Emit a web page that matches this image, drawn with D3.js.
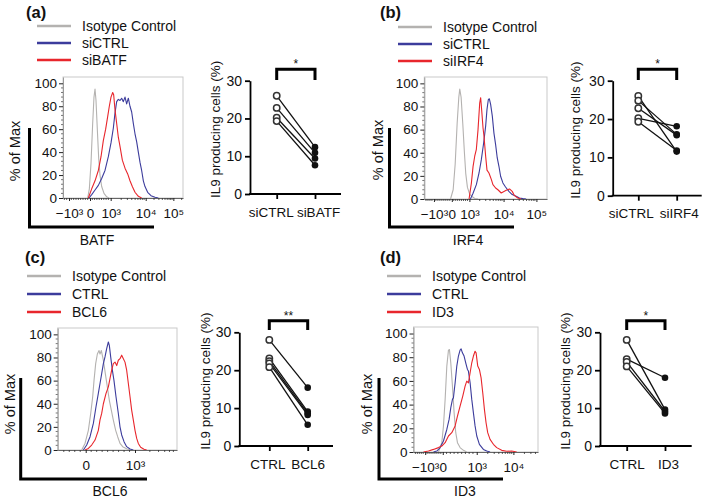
<!DOCTYPE html>
<html><head><meta charset="utf-8">
<script src="https://cdn.jsdelivr.net/npm/d3@7"></script>
<style>
body{margin:0;background:#fff}
text{font-family:Arial,"Liberation Sans",Helvetica,sans-serif;fill:#111}
</style>
</head><body>
<svg id="chart" width="709" height="500"></svg>
<script>
// ---------------- DATA ----------------
const panelLabels = ["(a)", "(b)", "(c)", "(d)"];
const legendA = ["Isotype Control", "siCTRL", "siBATF"];
const legendB = ["Isotype Control", "siCTRL", "siIRF4"];
const legendC = ["Isotype Control", "CTRL", "BCL6"];
const legendD = ["Isotype Control", "CTRL", "ID3"];
const markers = ["BATF", "IRF4", "BCL6", "ID3"];
const histYTicks = [0, 20, 40, 60, 80, 100];

// histogram x in display channels (0-256), y in % of max
const histA_iso = [[52.6,0],[56.2,8],[59.7,30],[63.3,65],[66.1,88],[68.3,95],[70.4,85],[73.2,60],[76.1,35],[78.9,20],[82.5,10],[87.5,4],[93.2,1],[98.1,0]];
const histA_ctrl = [[55.5,0],[61.2,3],[68.3,7],[75.4,11],[82.5,17],[89.6,24],[96.7,36],[102.4,48],[107.4,61],[110.9,74],[114.5,84],[118,86],[121.6,85],[125.2,87],[128.7,84],[132.3,88],[135.8,82],[139.4,87],[142.9,80],[146.5,75],[150,65],[153.6,56],[157.2,49],[160.7,40],[164.3,31],[167.8,24],[171.4,15],[174.9,10],[180.6,5],[187.7,2],[196.3,0.6],[203.4,0]];
const histA_trt = [[54,0],[61.2,8],[68.3,15],[75.4,24],[81.1,36],[86,50],[91,60],[95.3,71],[98.8,80],[102.4,88],[106,92],[108.1,90],[110.9,77],[114.5,65],[118,53],[121.6,45],[126.6,33],[132.3,26],[138,21],[142.9,15],[147.9,10],[153.6,5],[160.7,1.5],[167.8,0]];

const histB_iso = [[54.7,0],[60.2,8],[64.4,30],[68.5,65],[72,88],[74,95],[76.8,88],[80.3,65],[83.7,40],[86.5,22],[90,10],[94.8,4],[100.3,2],[105.2,0.5],[112.1,0]];
const histB_ctrl = [[96.2,0],[101.7,5],[108.6,12.4],[114.2,22.5],[119,34],[123.9,48.6],[128,63],[130.8,77.5],[133.6,86],[135.6,86.7],[138.4,81.8],[141.9,71.7],[145.3,57],[148.8,47],[152.2,35.5],[155.7,28.3],[159.2,19.7],[164,13.9],[169.5,10.4],[176.5,6.6],[183.4,3.8],[191.7,2.3],[198.6,0.9],[205.5,0.3],[212.4,0]];
const histB_trt = [[93.4,0],[98.3,14],[101.7,28],[105.2,37],[108.6,43],[112.1,60],[115.6,83],[117.6,87.6],[119.7,77],[122.5,61.6],[124.6,54],[128,37],[130.8,25],[134.9,22.5],[139.8,17],[143.2,12.4],[148.8,9.5],[153.6,8],[160.5,5.2],[170.9,7.5],[177.8,8.7],[183.4,6.6],[188.2,2.9],[195.1,0.9],[202.1,0]];

const histC_iso = [[51.5,0],[58.6,5.7],[65.8,17],[70.8,31.6],[75.1,46],[77.9,60],[81.5,74.7],[85.1,83],[88.7,86],[90.8,83],[93.7,86],[98,77.6],[102.2,66],[106.5,54.6],[110.8,43],[115.8,33],[119.4,25.9],[124.4,17],[128.7,11.5],[133.7,5.7],[139.4,2.9],[148,1.1],[155.2,0]];
const histC_ctrl = [[55.1,0],[62.2,4.3],[69.4,11.5],[76.5,23],[82.2,37.4],[87.2,49],[90.8,57.5],[94.4,66],[98,74.7],[101.5,80.5],[105.1,87.6],[108.7,93.4],[110.8,90.5],[113.7,80.5],[117.3,69],[120.8,60],[125.1,46],[130.1,31.6],[133.7,20],[137.3,13],[142.3,7.2],[148,2.9],[155.2,0.9],[162.3,0]];
const histC_trt = [[58.6,0],[65.8,1.4],[72.9,4.3],[80.1,8.6],[87.2,17],[90.8,26],[94.4,31.6],[98,40],[103.7,49],[108.7,54.6],[112.3,62],[115.8,69],[119.4,74.7],[123,76],[126.6,73],[130.1,77.6],[133.7,79],[137.3,82],[140.9,79],[144.4,76],[148,69],[151.6,57.5],[155.2,46],[158.7,34.5],[162.3,25.9],[165.9,17],[169.5,10],[173,5.7],[178,2.3],[185.2,0.6],[190.9,0]];

const histD_iso = [[51.3,0],[58.2,7.9],[61.6,22],[65,44],[68.5,72.5],[71.9,86],[73.9,86.5],[76.7,75],[80.1,55.6],[83.5,33],[86.9,16.3],[90.4,7.9],[95.8,3.7],[102.7,1.4],[109.5,0]];
const histD_ctrl = [[41.1,0],[47.9,0.8],[54.8,3.7],[61.6,9.3],[68.5,19],[73.2,27.5],[76.7,37.4],[80.1,44.4],[82.1,45.8],[85.6,58.4],[89,72.5],[92.4,81],[95.8,86],[97.9,87],[100.6,83.7],[104,81],[108.2,73.9],[110.9,69.7],[112.9,68.3],[116.4,58.4],[119.8,44.4],[123.2,33],[126.6,22],[130.1,13.5],[135.5,6.5],[143.7,2.2],[150.6,0.8],[157.4,0]];
const histD_trt = [[20.5,0],[30.8,0.8],[41.1,2.2],[51.3,3.7],[58.2,5],[65,7.9],[71.9,13.5],[78.7,16.3],[85.6,22],[90.4,30.3],[95.8,38.8],[101.3,47.2],[106.1,55.6],[109.5,59.8],[112.9,58.4],[116.4,66.9],[119.8,75.3],[123.2,81],[126.6,85],[128.7,83.7],[132.1,72.5],[135.5,69.7],[139,62.6],[142.4,50],[145.8,36],[149.2,24.7],[152.6,16.3],[157.4,10.7],[164.3,6.5],[171.1,3.7],[181.4,1.4],[191.7,0.6],[201.9,0.8],[212.2,0]];

// x-axis tick channels and labels
const ticksA = [12.8, 57.6, 101.7, 176.4, 235.4];
const tickLabelsA = ["\u221210\u00B3", "0", "10\u00B3", "10\u2074", "10\u2075"];
const ticksB = [20.1, 57.4, 94.1, 165.4, 233.9];
const tickLabelsB = ["\u221210\u00B3", "0", "10\u00B3", "10\u2074", "10\u2075"];
const ticksC = [60.1, 165.9];
const tickLabelsC = ["0", "10\u00B3"];
const ticksD = [24, 60.2, 130, 205.4];
const tickLabelsD = ["\u221210\u00B3", "0", "10\u00B3", "10\u2074"];

// paired dot plots: IL9 producing cells (%)
const catsA = ["siCTRL", "siBATF"];
const ctrlA = [26.0, 22.8, 20.2, 19.3];
const trtA  = [12.4, 10.9, 9.4, 7.6];
const catsB = ["siCTRL", "siIRF4"];
const ctrlB = [26.0, 24.8, 22.8, 20.2, 19.3];
const trtB  = [11.5, 16.0, 15.8, 18.1, 11.8];
const catsC = ["CTRL", "BCL6"];
const ctrlC = [28.0, 23.1, 22.4, 21.8, 20.8];
const trtC  = [15.4, 9.1, 8.6, 8.2, 5.6];
const catsD = ["CTRL", "ID3"];
const ctrlD = [28.0, 22.9, 22.2, 21.0];
const trtD  = [9.6, 18.0, 9.1, 8.6];
const dotYTicks = [0, 10, 20, 30];
const sigs = ["*", "*", "**", "*"];

// ---------------- DRAW ----------------
const svg = d3.select("#chart");
const COL = {iso: "#b4b2b0", ctrl: "#3c3c9c", trt: "#e8262c"};

function minorTicks(ticks, labels, dmax) {
  const out = [];
  const isLog = l => l.startsWith("10");
  for (let i = 0; i < ticks.length - 1; i++) {
    const a = ticks[i], b = ticks[i + 1];
    if (isLog(labels[i]) && isLog(labels[i + 1])) {
      for (let k = 2; k <= 9; k++) out.push(a + Math.log10(k) * (b - a));
    } else {
      for (let k = 1; k < 9; k++) out.push(a + k * (b - a) / 9);
    }
  }
  const n = ticks.length;
  const last = ticks[n - 1];
  const w = n > 2 ? ticks[n - 1] - ticks[n - 2] : (ticks[1] - ticks[0]);
  for (let k = 2; k <= 9; k++) { const v = last + Math.log10(k) * w; if (v <= dmax) out.push(v); }
  const step = (ticks[1] - ticks[0]) / 9;
  for (let v = ticks[0] - step; v >= 2; v -= step) out.push(v);
  return out;
}

function drawHist(c) {
  const g = svg.append("g");
  const x = d3.scaleLinear().domain([0, 256]).range([c.left, c.right]);
  const y = d3.scaleLinear().domain([0, 105.5]).range([c.bottom, c.top]);

  g.append("rect").attr("x", c.left).attr("y", c.top)
    .attr("width", c.right - c.left).attr("height", c.bottom - c.top)
    .attr("fill", "none").attr("stroke", "#c9c9c9").attr("stroke-width", 1);

  const line = d3.line().x(d => x(d[0])).y(d => y(d[1]));
  [["iso", c.iso], ["ctrl", c.ctrl], ["trt", c.trt]].forEach(([k, data]) => {
    g.append("path").datum(data).attr("d", line).attr("fill", "none")
      .attr("stroke", COL[k]).attr("stroke-width", 1.1).attr("stroke-linejoin", "round");
  });

  const ya = g.append("g").attr("transform", `translate(${c.left},0)`)
    .call(d3.axisLeft(y).tickValues(histYTicks).tickSize(4).tickSizeOuter(0).tickPadding(2));
  ya.select(".domain").attr("stroke", "#9a9a9a");
  ya.selectAll(".tick line").attr("stroke", "#222");
  ya.selectAll(".tick text").style("font-size", "13.5px").attr("fill", "#111");
  ya.selectAll("line.minor").data(d3.range(4, 100, 4).filter(v => v % 20 !== 0)).enter()
    .append("line").attr("class", "minor").attr("x1", 0).attr("x2", -2)
    .attr("y1", d => y(d)).attr("y2", d => y(d)).attr("stroke", "#555").attr("stroke-width", 0.8);

  const xa = g.append("g").attr("transform", `translate(0,${c.bottom})`)
    .call(d3.axisBottom(x).tickValues(c.ticks).tickFormat((d, i) => c.labels[i])
      .tickSize(3).tickSizeOuter(0).tickPadding(7));
  xa.select(".domain").attr("stroke", "#666");
  xa.selectAll(".tick line").attr("stroke", "#222");
  xa.selectAll(".tick text").style("font-size", "13.5px").attr("fill", "#111");
  xa.selectAll("line.minor").data(minorTicks(c.ticks, c.labels, 254)).enter()
    .append("line").attr("class", "minor").attr("y1", 0).attr("y2", 2)
    .attr("x1", d => x(d)).attr("x2", d => x(d)).attr("stroke", "#333").attr("stroke-width", 0.8);

  g.append("path")
    .attr("d", `M${c.barX},${c.barTop} V${c.barBottom} H${c.barRight}`)
    .attr("fill", "none").attr("stroke", "#000").attr("stroke-width", 3);

  g.append("text").attr("transform", `translate(${c.ytX},${c.ytY}) rotate(-90)`)
    .attr("text-anchor", "middle").attr("dy", "0.35em").style("font-size", "14.5px").text("% of Max");
  g.append("text").attr("x", c.xtX).attr("y", c.xtY).attr("text-anchor", "middle")
    .attr("dy", "0.35em").style("font-size", "14px").text(c.marker);

  const keys = ["iso", "ctrl", "trt"];
  c.legend.forEach((t, i) => {
    const ly = c.legY[i];
    g.append("line").attr("x1", c.legX).attr("x2", c.legX + 34).attr("y1", ly).attr("y2", ly)
      .attr("stroke", COL[keys[i]]).attr("stroke-width", 2.5);
    g.append("text").attr("x", c.legX + 45).attr("y", ly).attr("dy", "0.35em")
      .style("font-size", "14px").text(t);
  });

  g.append("text").attr("x", c.lblX).attr("y", c.lblY).style("font-size", "16.5px")
    .style("font-weight", "bold").text(c.label);
}

function drawDots(c) {
  const g = svg.append("g");
  const x = d3.scalePoint().domain(c.cats).range([c.c1, c.c2]);
  const y = d3.scaleLinear().domain([0, 30]).range([c.y0, c.y30]);

  const ya = g.append("g").attr("transform", `translate(${c.axisX},0)`)
    .call(d3.axisLeft(y).tickValues(dotYTicks).tickSize(5).tickSizeOuter(0).tickPadding(3));
  ya.selectAll("path,line").attr("stroke", "#000").attr("stroke-width", 1.8);
  ya.selectAll(".tick text").style("font-size", "14px").attr("fill", "#111");

  const xa = g.append("g").attr("transform", `translate(0,${c.y0})`)
    .call(d3.axisBottom(x).tickSize(5).tickSizeOuter(0).tickPadding(8));
  xa.select(".domain").remove();
  xa.selectAll(".tick line").attr("stroke", "#000").attr("stroke-width", 1.8);
  xa.selectAll(".tick text").style("font-size", "13.5px").attr("fill", "#111")
    .attr("dx", (d, i) => c.lblDx[i]);
  g.append("line").attr("x1", c.axisX - 0.9).attr("x2", c.axisEnd).attr("y1", c.y0).attr("y2", c.y0)
    .attr("stroke", "#000").attr("stroke-width", 1.8);

  const pairs = c.ctrl.map((v, i) => [v, c.trt[i]]);
  g.selectAll("line.pair").data(pairs).enter().append("line").attr("class", "pair")
    .attr("x1", x(c.cats[0])).attr("x2", x(c.cats[1]))
    .attr("y1", d => y(d[0])).attr("y2", d => y(d[1]))
    .attr("stroke", "#111").attr("stroke-width", 1.3);
  g.selectAll("circle.c").data(c.ctrl).enter().append("circle").attr("class", "c")
    .attr("cx", x(c.cats[0])).attr("cy", d => y(d)).attr("r", 3.2)
    .attr("fill", "#fff").attr("stroke", "#333").attr("stroke-width", 1.5);
  g.selectAll("circle.t").data(c.trt).enter().append("circle").attr("class", "t")
    .attr("cx", x(c.cats[1])).attr("cy", d => y(d)).attr("r", 3.3).attr("fill", "#111");

  g.append("path")
    .attr("d", `M${x(c.cats[0])},${c.brLeg} V${c.brY} H${x(c.cats[1])} V${c.brLeg}`)
    .attr("fill", "none").attr("stroke", "#000").attr("stroke-width", 3);
  g.append("text").attr("x", (x(c.cats[0]) + x(c.cats[1])) / 2).attr("y", c.brY - 1)
    .attr("text-anchor", "middle").style("font-size", "12px").text(c.sig);

  g.append("text").attr("transform", `translate(${c.ytX},${(c.y0 + c.y30) / 2 - 8}) rotate(-90)`)
    .attr("text-anchor", "middle").attr("dy", "0.35em").style("font-size", "13.5px")
    .text("IL9 producing cells (%)");
}

drawHist({label: panelLabels[0], lblX: 26, lblY: 18, left: 63, right: 183, top: 77, bottom: 198,
  iso: histA_iso, ctrl: histA_ctrl, trt: histA_trt, ticks: ticksA, labels: tickLabelsA,
  barX: 29.5, barTop: 128, barBottom: 227, barRight: 154, ytX: 15, ytY: 151, xtX: 97, xtY: 240,
  marker: markers[0], legend: legendA, legX: 37, legY: [26, 43, 60]});
drawHist({label: panelLabels[1], lblX: 380, lblY: 18, left: 424.3, right: 547, top: 77, bottom: 199,
  iso: histB_iso, ctrl: histB_ctrl, trt: histB_trt, ticks: ticksB, labels: tickLabelsB,
  barX: 389.5, barTop: 128, barBottom: 227, barRight: 514, ytX: 378, ytY: 150, xtX: 468, xtY: 240,
  marker: markers[1], legend: legendB, legX: 398, legY: [27, 44, 61]});
drawHist({label: panelLabels[2], lblX: 25, lblY: 263, left: 57.7, right: 177, top: 328, bottom: 450,
  iso: histC_iso, ctrl: histC_ctrl, trt: histC_trt, ticks: ticksC, labels: tickLabelsC,
  barX: 20.7, barTop: 378, barBottom: 479, barRight: 147, ytX: 10, ytY: 404, xtX: 110, xtY: 491,
  marker: markers[2], legend: legendC, legX: 27, legY: [276, 294, 312]});
drawHist({label: panelLabels[3], lblX: 380, lblY: 263, left: 413.5, right: 538, top: 327, bottom: 452,
  iso: histD_iso, ctrl: histD_ctrl, trt: histD_trt, ticks: ticksD, labels: tickLabelsD,
  barX: 379, barTop: 378, barBottom: 479, barRight: 503, ytX: 367, ytY: 404, xtX: 465, xtY: 491,
  marker: markers[3], legend: legendD, legX: 387, legY: [276, 294, 312]});

drawDots({cats: catsA, ctrl: ctrlA, trt: trtA, sig: sigs[0], axisX: 250, axisEnd: 341,
  c1: 276.7, c2: 315, y0: 194, y30: 80.7, brY: 69.3, brLeg: 80, ytX: 215, lblDx: [-6, 3]});
drawDots({cats: catsB, ctrl: ctrlB, trt: trtB, sig: sigs[1], axisX: 612.7, axisEnd: 701.7,
  c1: 638.3, c2: 676.7, y0: 195.7, y30: 80.7, brY: 69.3, brLeg: 80, ytX: 575, lblDx: [-7.5, 2]});
drawDots({cats: catsC, ctrl: ctrlC, trt: trtC, sig: sigs[2], axisX: 239.3, axisEnd: 333,
  c1: 269.3, c2: 307.7, y0: 446, y30: 332.3, brY: 320.7, brLeg: 330, ytX: 205, lblDx: [-2, 0]});
drawDots({cats: catsD, ctrl: ctrlD, trt: trtD, sig: sigs[3], axisX: 600, axisEnd: 691.7,
  c1: 626.7, c2: 665, y0: 446, y30: 332.3, brY: 320.7, brLeg: 330, ytX: 565, lblDx: [0, 3]});
</script>
</body></html>
